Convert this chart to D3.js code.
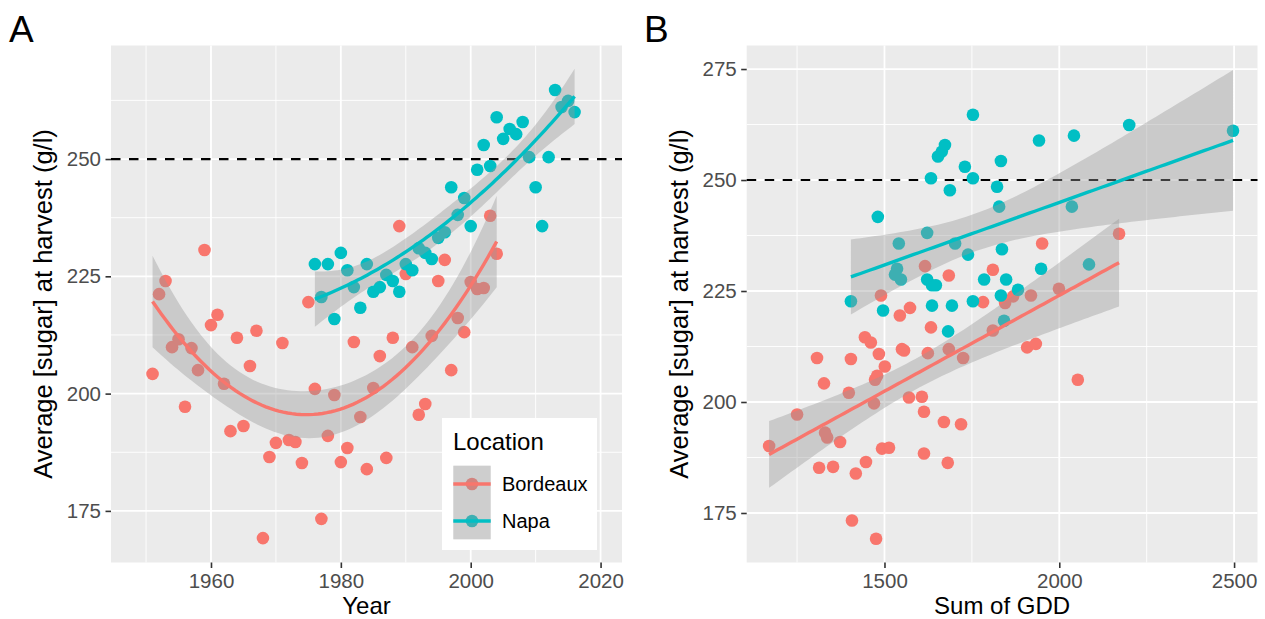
<!DOCTYPE html>
<html><head><meta charset="utf-8">
<script src="https://cdn.jsdelivr.net/npm/d3@7"></script>
<style>
html,body{margin:0;padding:0;background:#fff;}
svg{display:block;font-family:"Liberation Sans",Arial,Helvetica,sans-serif;}
</style></head><body>
<svg id="chart" width="1265" height="619"></svg>
<script>
// ---------------- DATA ----------------
const locations = ["Bordeaux", "Napa"];
const bordeauxYear = [1951,1952,1953,1954,1955,1956,1957,1958,1959,1960,
  1961,1962,1963,1964,1965,1966,1967,1968,1969,1970,
  1971,1972,1973,1974,1975,1976,1977,1978,1979,1980,
  1981,1982,1983,1984,1985,1986,1987,1988,1989,1990,
  1991,1992,1993,1994,1995,1996,1997,1998,1999,2000,
  2001,2002,2003,2004];
const bordeauxSugar = [204.2,221.2,224.0,209.9,211.6,197.2,209.7,205.0,230.6,214.6,
  216.8,202.1,192.0,211.9,193.1,205.9,213.4,169.2,186.5,189.5,
  210.8,190.1,189.7,185.2,219.5,201.0,173.3,191.0,199.7,185.4,
  188.4,211.0,195.0,183.9,201.2,208.0,186.3,211.9,235.7,225.5,
  209.9,195.5,197.8,212.3,224.0,228.5,205.0,216.1,213.1,223.8,
  222.3,222.5,237.9,229.8];
const bordeauxGDD = [1327,1573,1490,1307,1556,1250,1404,1473,1616,1444,
  1633,1398,1336,1684,1330,1479,1461,1476,1447,1493,
  1484,1170,1513,1313,1544,1570,1407,1373,1470,1353,
  1613,1624,1719,1418,1607,1501,1681,1550,1951,1999,
  1725,1670,1613,1908,1919,1684,2053,1810,1933,1868,
  1845,1782,2171,1810];

const napaYear = [1976,1977,1978,1979,1980,1981,1982,1983,1984,1985,
  1986,1987,1988,1989,1990,1991,1992,1993,1994,1995,
  1996,1997,1998,1999,2000,2001,2002,2003,2004,2005,
  2006,2007,2008,2009,2010,2011,2012,2013,2014,2015,2016];
const napaSugar = [227.6,220.6,227.6,215.9,230.0,226.3,222.7,218.3,227.6,221.7,
  222.7,225.3,224.0,221.7,227.6,226.3,231.0,230.0,228.7,233.2,
  234.4,244.0,238.1,241.7,235.7,247.7,253.0,248.5,258.9,254.3,
  256.4,255.3,257.9,250.4,244.0,235.7,250.4,264.7,261.1,262.4,260.0];
const napaGDD = [1547,1496,1622,1682,1536,1636,1404,1842,1785,1636,
  1753,1882,1833,1693,1848,1647,2085,1948,1530,1739,
  1836,1828,1622,1481,1541,1687,1730,1822,1942,1833,
  1664,1653,1673,1633,2036,1702,1753,1753,2497,2200,2042];

const threshold = 250;
const yearTicks = [1960, 1980, 2000, 2020];
const yearMinor = [1950, 1970, 1990, 2010];
const gddTicks = [1500, 2000, 2500];
const gddMinor = [1250, 1750, 2250];
const sugarTicksA = [175, 200, 225, 250];
const sugarMinorA = [187.5, 212.5, 237.5, 262.5];
const sugarTicksB = [175, 200, 225, 250, 275];
const sugarMinorB = [187.5, 212.5, 237.5, 262.5];

// ---------------- HELPERS ----------------
const colors = {Bordeaux: "#F8766D", Napa: "#00BFC4"};
const svg = d3.select("#chart");

function tq(df) { // 97.5% t quantile (Cornish-Fisher)
  const z = 1.959964;
  return z + (z**3 + z) / (4*df) + (5*z**5 + 16*z**3 + 3*z) / (96*df*df)
    + (3*z**7 + 19*z**5 + 17*z**3 - 15*z) / (384*df**3);
}
function invert(A) {
  const n = A.length;
  const M = A.map((r, i) => r.concat(A.map((_, j) => (i === j ? 1 : 0))));
  for (let c = 0; c < n; c++) {
    let p = c;
    for (let r = c + 1; r < n; r++) if (Math.abs(M[r][c]) > Math.abs(M[p][c])) p = r;
    [M[c], M[p]] = [M[p], M[c]];
    const d = M[c][c];
    for (let k = 0; k < 2*n; k++) M[c][k] /= d;
    for (let r = 0; r < n; r++) if (r !== c) {
      const f = M[r][c];
      for (let k = 0; k < 2*n; k++) M[r][k] -= f * M[c][k];
    }
  }
  return M.map(r => r.slice(n));
}
// polynomial least squares (degree 1 or 2) with 95% confidence band
function polyFit(degree) {
  return (xs, ys) => {
    const n = xs.length, p = degree + 1;
    const mx = d3.mean(xs), sx = d3.deviation(xs);
    const basis = x => { const t = (x - mx) / sx; return d3.range(p).map(k => Math.pow(t, k)); };
    const X = xs.map(basis);
    const XtX = d3.range(p).map(r => d3.range(p).map(c => d3.sum(X, row => row[r]*row[c])));
    const Xty = d3.range(p).map(r => d3.sum(X, (row, i) => row[r]*ys[i]));
    const inv = invert(XtX);
    const beta = inv.map(row => d3.sum(row, (v, k) => v * Xty[k]));
    const pred = b => d3.sum(b, (v, k) => v * beta[k]);
    const rss = d3.sum(X, (row, i) => (ys[i] - pred(row)) ** 2);
    const s = Math.sqrt(rss / (n - p)), t = tq(n - p);
    const [lo, hi] = d3.extent(xs);
    return d3.range(80).map(k => {
      const x0 = lo + (hi - lo) * k / 79, b = basis(x0), f = pred(b);
      let q = 0;
      for (let r = 0; r < p; r++) for (let c = 0; c < p; c++) q += b[r]*inv[r][c]*b[c];
      const se = s * Math.sqrt(q);
      return {x: x0, y: f, lo: f - t*se, hi: f + t*se};
    });
  };
}

// ---------------- PANEL ----------------
function panel(cfg) {
  const g = svg.append("g");
  const x = d3.scaleLinear().domain(cfg.xDomain).range([cfg.left, cfg.right]);
  const y = d3.scaleLinear().domain(cfg.yDomain).range([cfg.bottom, cfg.top]);
  g.append("rect").attr("x", cfg.left).attr("y", cfg.top)
    .attr("width", cfg.right - cfg.left).attr("height", cfg.bottom - cfg.top).attr("fill", "#EBEBEB");
  // grid
  g.selectAll(".vmin").data(cfg.xMinor).join("line")
    .attr("x1", d => x(d)).attr("x2", d => x(d)).attr("y1", cfg.top).attr("y2", cfg.bottom)
    .attr("stroke", "#fff").attr("stroke-width", 0.9);
  g.selectAll(".hmin").data(cfg.yMinor).join("line")
    .attr("y1", d => y(d)).attr("y2", d => y(d)).attr("x1", cfg.left).attr("x2", cfg.right)
    .attr("stroke", "#fff").attr("stroke-width", 0.9);
  g.selectAll(".vmaj").data(cfg.xTicks).join("line")
    .attr("x1", d => x(d)).attr("x2", d => x(d)).attr("y1", cfg.top).attr("y2", cfg.bottom)
    .attr("stroke", "#fff").attr("stroke-width", 1.8);
  g.selectAll(".hmaj").data(cfg.yTicks).join("line")
    .attr("y1", d => y(d)).attr("y2", d => y(d)).attr("x1", cfg.left).attr("x2", cfg.right)
    .attr("stroke", "#fff").attr("stroke-width", 1.8);
  // threshold
  g.append("line").attr("x1", cfg.left).attr("x2", cfg.right)
    .attr("y1", y(threshold)).attr("y2", y(threshold))
    .attr("stroke", "#000").attr("stroke-width", 2.2).attr("stroke-dasharray", "9.5 8.5");
  // points
  cfg.groups.forEach(grp => {
    g.append("g").selectAll("circle").data(grp.xs.map((v, i) => [v, grp.ys[i]])).join("circle")
      .attr("cx", d => x(d[0])).attr("cy", d => y(d[1])).attr("r", 6.3).attr("fill", colors[grp.name]);
  });
  // smooths
  cfg.groups.forEach(grp => {
    const fit = cfg.fit(grp.xs, grp.ys);
    g.append("path").datum(fit)
      .attr("d", d3.area().x(d => x(d.x)).y0(d => y(d.lo)).y1(d => y(d.hi)))
      .attr("fill", "#999999").attr("fill-opacity", 0.4);
    g.append("path").datum(fit)
      .attr("d", d3.line().x(d => x(d.x)).y(d => y(d.y)))
      .attr("fill", "none").attr("stroke", colors[grp.name]).attr("stroke-width", 3.4);
  });
  // axes
  const ax = g.append("g").attr("transform", `translate(0,${cfg.bottom})`)
    .call(d3.axisBottom(x).tickValues(cfg.xTicks).tickSize(5.5).tickPadding(5.5).tickFormat(d3.format("d")));
  const ay = g.append("g").attr("transform", `translate(${cfg.left},0)`)
    .call(d3.axisLeft(y).tickValues(cfg.yTicks).tickSize(5.5).tickPadding(4.5).tickFormat(d3.format("d")));
  [ax, ay].forEach(a => {
    a.select(".domain").remove();
    a.selectAll(".tick line").attr("stroke", "#333333").attr("stroke-width", 1.6);
    a.selectAll(".tick text").attr("fill", "#4D4D4D").style("font-size", "20.5px")
      .style("font-family", '"Liberation Sans", Arial, sans-serif');
  });
  // titles
  g.append("text").attr("x", (cfg.left + cfg.right) / 2).attr("y", 613.8)
    .attr("text-anchor", "middle").style("font-size", "24px").text(cfg.xTitle);
  g.append("text").attr("transform", `translate(${cfg.left - 59},${(cfg.top + cfg.bottom) / 2}) rotate(-90)`)
    .attr("text-anchor", "middle").style("font-size", "25.5px").text("Average [sugar] at harvest (g/l)");
  g.append("text").attr("x", cfg.letterX).attr("y", 42).style("font-size", "37px").text(cfg.letter);
  return {x, y, g};
}

panel({
  left: 111, right: 622, top: 45.5, bottom: 562.5,
  xDomain: [1944.6, 2023.3], yDomain: [164.0, 274.2],
  xTicks: yearTicks, xMinor: yearMinor, yTicks: sugarTicksA, yMinor: sugarMinorA,
  xTitle: "Year", letter: "A", letterX: 9,
  groups: [{name: "Bordeaux", xs: bordeauxYear, ys: bordeauxSugar},
           {name: "Napa", xs: napaYear, ys: napaSugar}],
  fit: polyFit(2)
});
panel({
  left: 746.7, right: 1257.5, top: 45.5, bottom: 562.5,
  xDomain: [1105.9, 2567], yDomain: [163.85, 280.3],
  xTicks: gddTicks, xMinor: gddMinor, yTicks: sugarTicksB, yMinor: sugarMinorB,
  xTitle: "Sum of GDD", letter: "B", letterX: 644,
  groups: [{name: "Bordeaux", xs: bordeauxGDD, ys: bordeauxSugar},
           {name: "Napa", xs: napaGDD, ys: napaSugar}],
  fit: polyFit(1)
});

// ---------------- LEGEND ----------------
const lg = svg.append("g");
lg.append("rect").attr("x", 442).attr("y", 418).attr("width", 155).attr("height", 132).attr("fill", "#fff");
lg.append("text").attr("x", 453).attr("y", 450).style("font-size", "24px").text("Location");
lg.append("rect").attr("x", 453.3).attr("y", 465.7).attr("width", 37.4).attr("height", 73.6).attr("fill", "#F2F2F2");
const keyY = d3.scalePoint().domain(locations).range([484, 521]);
locations.forEach(loc => {
  lg.append("circle").attr("cx", 472).attr("cy", keyY(loc)).attr("r", 6.3).attr("fill", colors[loc]);
});
lg.append("rect").attr("x", 453.3).attr("y", 465.7).attr("width", 37.4).attr("height", 73.6)
  .attr("fill", "#999999").attr("fill-opacity", 0.4);
locations.forEach(loc => {
  lg.append("line").attr("x1", 453.3).attr("x2", 490.7).attr("y1", keyY(loc)).attr("y2", keyY(loc))
    .attr("stroke", colors[loc]).attr("stroke-width", 3.4);
  lg.append("text").attr("x", 502).attr("y", keyY(loc) + 7).style("font-size", "20px").text(loc);
});
</script>
</body></html>
